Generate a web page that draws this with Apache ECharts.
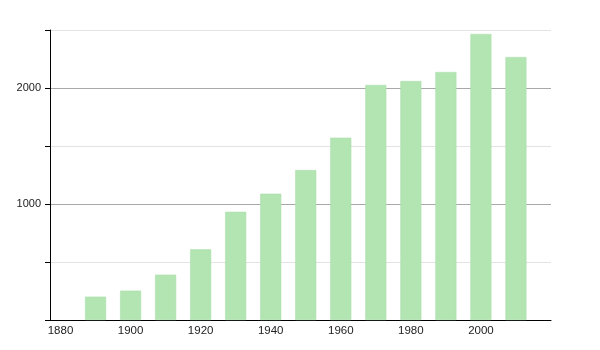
<!DOCTYPE html>
<html>
<head>
<meta charset="utf-8">
<script src="https://cdn.jsdelivr.net/npm/echarts@6/dist/echarts.min.js"></script>
<style>html,body{margin:0;padding:0;background:#fff}#c{width:600px;height:350px}</style>
</head>
<body>
<div id="c"></div>
<script>
const years = [1890, 1900, 1910, 1920, 1930, 1940, 1950, 1960, 1970, 1980, 1990, 2000, 2010];
const population = [201, 253, 391, 609, 933, 1089, 1293, 1572, 2026, 2060, 2138, 2466, 2267];
const xTickLabels = [1880, 1900, 1920, 1940, 1960, 1980, 2000];
const yLabelled = [1000, 2000];

const chart = echarts.init(document.getElementById('c'), null, {renderer: 'canvas'});
chart.setOption({
  animation: false,
  grid: {left: 50, right: 49, top: 30, bottom: 30},
  xAxis: {
    type: 'value',
    min: 1877,
    max: 2020,
    axisLine: {show: true, onZero: false, lineStyle: {color: '#000', width: 1}},
    axisTick: {show: false},
    splitLine: {show: false},
    axisLabel: {
      customValues: xTickLabels,
      formatter: v => String(v),
      color: '#222',
      fontFamily: 'Liberation Sans, Arial, sans-serif',
      fontSize: 11.5,
      margin: 5
    }
  },
  yAxis: {
    type: 'value',
    min: 0,
    max: 2500,
    interval: 500,
    axisLine: {show: true, lineStyle: {color: '#000', width: 1}},
    axisTick: {show: true, length: 5, lineStyle: {color: '#000'}},
    splitLine: {show: true, lineStyle: {color: ['#ccc', '#e3e3e3', '#a8a8a8', '#e3e3e3', '#a8a8a8', '#e3e3e3'], width: 1}},
    axisLabel: {
      formatter: v => yLabelled.includes(v) ? String(v) : '',
      color: '#222',
      fontFamily: 'Liberation Sans, Arial, sans-serif',
      fontSize: 11,
      margin: 9
    }
  },
  series: [{
    type: 'bar',
    data: years.map((y, i) => [y, population[i]]),
    barWidth: 21,
    itemStyle: {color: '#b3e5b3', borderColor: '#a9dca9', borderWidth: 0.5}
  }]
});
</script>
</body>
</html>
